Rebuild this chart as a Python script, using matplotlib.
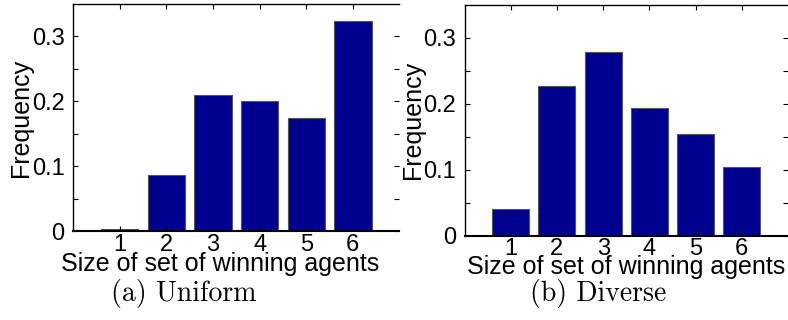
import numpy as np
import matplotlib
matplotlib.use("Agg")
import matplotlib.pyplot as plt

plt.rcParams['font.family'] = ['Liberation Sans', 'DejaVu Sans']

# values
sizes = [1, 2, 3, 4, 5, 6]
uniform = [0.003, 0.086, 0.209, 0.201, 0.175, 0.324]
diverse = [0.041, 0.227, 0.279, 0.194, 0.154, 0.104]
captions = ["(a) Uniform", "(b) Diverse"]
xlabel = "Size of set of winning agents"
ylabel = "Frequency"
yticks = [0, 0.1, 0.2, 0.3]
yminor = [0.05, 0.15, 0.25]

W, H = 788, 320
fig = plt.figure(figsize=(W/100, H/100), dpi=100)

def px(l, t, r, b):
    return [l/W, 1 - b/H, (r - l)/W, (b - t)/H]

# axes rect, values, caption centre x, xlabel centre x / baseline y in pixels
panels = [(px(73, 4, 399.5, 231), uniform, 184, (220, 271)),
          (px(464.5, 5, 788, 235.7), diverse, 598, (626, 274)),]

for (rect, vals, cx, (lx, ly)), cap in zip(panels, captions):
    ax = fig.add_axes(rect)
    ax.bar(sizes, vals, width=0.8, color='#00008F', edgecolor='#555555', linewidth=0.8)
    ax.set_xlim(0, 7)
    ax.set_ylim(0, 0.35)
    ax.set_xticks(sizes)
    ax.set_yticks(yticks)
    ax.set_yticklabels(['0', '0.1', '0.2', '0.3'])
    ax.set_yticks(yminor, minor=True)
    ax.tick_params(which='both', direction='in', top=True, right=True, length=3.5, width=0.8,
                   labelsize=17)
    ax.tick_params(axis='y', pad=6)
    ax.tick_params(axis='x', pad=2)
    for s in ax.spines.values():
        s.set_linewidth(1.0)
    ax.spines['bottom'].set_linewidth(1.5)
    ax.spines['right'].set_visible(False)
    ax.set_xlabel(xlabel, fontsize=18, va='baseline')
    ax.xaxis.set_label_coords(lx/W, 1 - ly/H, transform=fig.transFigure)
    ax.set_ylabel(ylabel, fontsize=18, labelpad=-1)
    fig.text(cx/W, 1 - 294/H, cap, fontsize=20, family='cmr10', ha='center', va='center')

fig.savefig("out.png", dpi=100)
